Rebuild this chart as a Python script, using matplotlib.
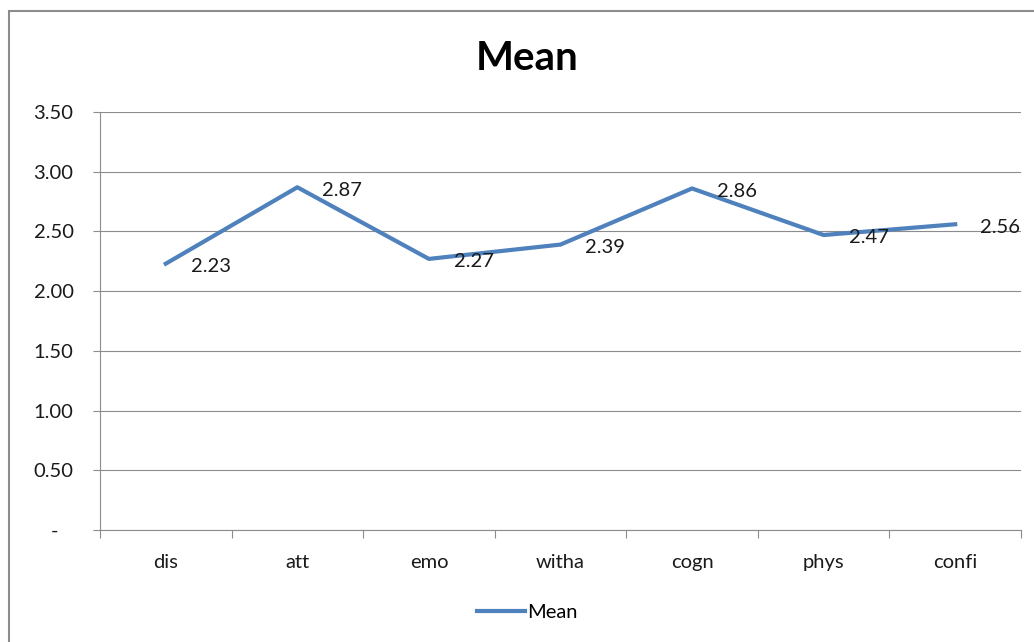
import matplotlib.pyplot as plt
from matplotlib.patches import Rectangle

categories = ['dis', 'att', 'emo', 'witha', 'cogn', 'phys', 'confi']
means = [2.23, 2.87, 2.27, 2.39, 2.86, 2.47, 2.56]
yticks = [0, 0.5, 1.0, 1.5, 2.0, 2.5, 3.0, 3.5]
ytick_labels = ['-   ', '0.50', '1.00', '1.50', '2.00', '2.50', '3.00', '3.50']

plt.rcParams['font.family'] = ['Lato', 'DejaVu Sans']
FS = 14.5

fig = plt.figure(figsize=(10.34, 6.42), dpi=100)
ax = fig.add_axes([0.0967, 0.1745, 0.8907, 0.651])

# outer chart border
fig.patches.append(Rectangle((9 / 1034, -0.05), 1.1, 1 - 11 / 642 + 0.05,
                             transform=fig.transFigure, fill=False,
                             edgecolor='#8c8c8c', linewidth=1.5))

x = list(range(len(categories)))
line, = ax.plot(x, means, color='#4F81BD', linewidth=3,
                solid_joinstyle='round', label='Mean')

for xi, v in zip(x, means):
    ax.annotate(f'{v:.2f}', (xi, v), xytext=(18, -2), textcoords='offset points',
                ha='left', va='center', fontsize=FS, color='#1a1a1a')

ax.set_xlim(-0.5, len(categories) - 0.5)
ax.set_ylim(0, 3.5)
ax.set_yticks(yticks)
ax.set_yticklabels(ytick_labels)
ax.set_xticks(x)
ax.set_xticklabels(categories)
ax.set_xticks([i - 0.5 for i in range(len(categories) + 1)], minor=True)

ax.grid(axis='y', color='#8c8c8c', linewidth=0.8)
ax.set_axisbelow(True)
for s in ['top', 'right']:
    ax.spines[s].set_visible(False)
for s in ['left', 'bottom']:
    ax.spines[s].set_color('#8c8c8c')
    ax.spines[s].set_linewidth(0.8)

ax.tick_params(axis='y', length=5, width=0.8, color='#8c8c8c', pad=14,
               labelsize=FS, labelcolor='#1a1a1a')
ax.tick_params(axis='x', which='major', length=0, pad=17,
               labelsize=FS, labelcolor='#1a1a1a')
ax.tick_params(axis='x', which='minor', length=6, width=0.8, color='#8c8c8c')

fig.text(0.51, 1 - 58 / 642, 'Mean', ha='center', va='center',
         fontsize=29, fontweight='bold', color='#000000')

fig.legend(handles=[line], loc='center', bbox_to_anchor=(0.51, 1 - 612 / 642),
           frameon=False, fontsize=FS, handlelength=2.4, handletextpad=0.1)

fig.savefig('out.png', dpi=100)
